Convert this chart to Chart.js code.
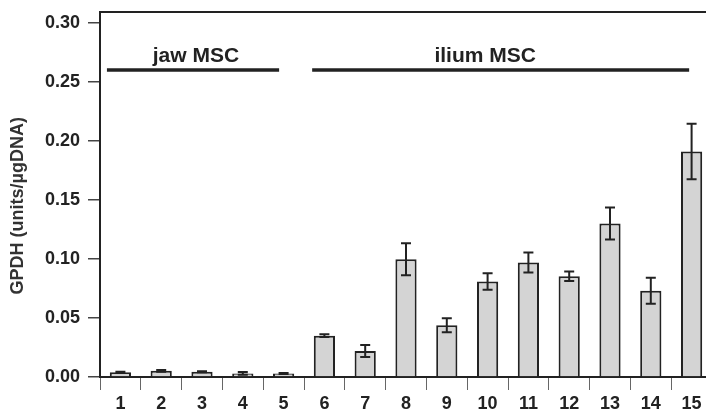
<!DOCTYPE html>
<html>
<head>
<meta charset="utf-8">
<script src="https://cdn.jsdelivr.net/npm/chart.js@4"></script>
<style>
  html, body { margin: 0; padding: 0; background: #fff; overflow: hidden; }
  #wrap { width: 712px; height: 413px; }
</style>
</head>
<body>
<div id="wrap"><canvas id="chart" width="712" height="413"></canvas></div>
<script>
// sample numbers on the x axis
const categories = ['1','2','3','4','5','6','7','8','9','10','11','12','13','14','15'];
// GPDH activity, units/µgDNA
const gpdh = [0.0040, 0.0052, 0.0045, 0.0030, 0.0030, 0.0350, 0.0220, 0.0997, 0.0438, 0.0808, 0.0969, 0.0853, 0.1300, 0.0731, 0.1910];
// error (+/-)
const gpdhErr = [0.0004, 0.0007, 0.0004, 0.0012, 0.0004, 0.0012, 0.0050, 0.0135, 0.0060, 0.0070, 0.0085, 0.0040, 0.0135, 0.0110, 0.0235];
const yTicks = [0, 0.05, 0.10, 0.15, 0.20, 0.25, 0.30];
const yTitle = 'GPDH (units/µgDNA)';

// group brackets (in category index units)
const groupNames = ['jaw MSC', 'ilium MSC'];
const groupFrom = [-0.33, 4.70];
const groupTo = [3.89, 13.94];
const groupTextAt = [1.85, 8.94];
const groupLevel = 0.26;

const ink = '#222';
const fontFam = '"Liberation Sans", Arial, sans-serif';

const extras = {
  id: 'extras',
  afterDatasetsDraw(chart){
    const ctx = chart.ctx;
    const x = chart.scales.x, y = chart.scales.y;
    const area = chart.chartArea;
    ctx.save();
    // top frame line
    ctx.strokeStyle = ink;
    ctx.lineWidth = 2;
    ctx.beginPath();
    ctx.moveTo(area.left, area.top);
    ctx.lineTo(area.right, area.top);
    ctx.stroke();

    // error bars
    const meta = chart.getDatasetMeta(0);
    ctx.lineWidth = 2;
    meta.data.forEach((bar, i) => {
      const cx = bar.x;
      const hi = y.getPixelForValue(gpdh[i] + gpdhErr[i]);
      const lo = y.getPixelForValue(gpdh[i] - gpdhErr[i]);
      const cap = 5;
      ctx.beginPath();
      ctx.moveTo(cx, hi); ctx.lineTo(cx, lo);
      ctx.moveTo(cx - cap, hi); ctx.lineTo(cx + cap, hi);
      ctx.moveTo(cx - cap, lo); ctx.lineTo(cx + cap, lo);
      ctx.stroke();
    });

    // group brackets
    const gy = y.getPixelForValue(groupLevel);
    ctx.lineWidth = 3.5;
    ctx.fillStyle = ink;
    ctx.font = 'bold 21px ' + fontFam;
    ctx.textAlign = 'center';
    ctx.textBaseline = 'alphabetic';
    groupNames.forEach((name, i) => {
      ctx.beginPath();
      ctx.moveTo(x.getPixelForValue(groupFrom[i]), gy);
      ctx.lineTo(x.getPixelForValue(groupTo[i]), gy);
      ctx.stroke();
      ctx.fillText(name, x.getPixelForValue(groupTextAt[i]), gy - 8);
    });

    // y axis title (sits a little below the axis centre in the original)
    ctx.translate(18, y.getPixelForValue(0.145));
    ctx.rotate(-Math.PI / 2);
    ctx.fillStyle = '#333';
    ctx.font = 'bold 18px ' + fontFam;
    ctx.textBaseline = 'middle';
    ctx.fillText(yTitle, 0, 0);
    ctx.restore();
  }
};

new Chart(document.getElementById('chart'), {
  type: 'bar',
  data: {
    labels: categories,
    datasets: [{
      data: gpdh,
      backgroundColor: '#d4d4d4',
      borderColor: ink,
      borderWidth: 2,
      barPercentage: 0.52,
      categoryPercentage: 1.0
    }]
  },
  options: {
    responsive: false,
    animation: false,
    layout: { padding: { top: 12, left: 0, right: 0, bottom: 0 } },
    plugins: { legend: { display: false }, tooltip: { enabled: false } },
    scales: {
      x: {
        offset: true,
        grid: { offset: true, drawOnChartArea: false, drawTicks: true, tickLength: 13, color: '#666', lineWidth: 1 },
        border: { display: true, color: ink, width: 2 },
        ticks: { color: ink, padding: 3, font: { family: fontFam, size: 18, weight: 'bold' }, maxRotation: 0 },
        afterFit(axis){ axis.height = 36; axis.paddingLeft = 0; axis.paddingRight = 0; }
      },
      y: {
        min: 0,
        max: 0.309,
        afterBuildTicks(axis){ axis.ticks = yTicks.map(v => ({ value: v })); },
        grid: { drawOnChartArea: false, drawTicks: true, tickLength: 12, color: '#444', lineWidth: 1.5 },
        border: { display: true, color: ink, width: 2 },
        ticks: {
          color: ink, padding: 8,
          font: { family: fontFam, size: 18, weight: 'bold' },
          callback: v => Number(v).toFixed(2)
        },
        afterFit(axis){ axis.width = 100; axis.paddingTop = 0; axis.paddingBottom = 0; }
      }
    }
  },
  plugins: [extras]
});
</script>
</body>
</html>
